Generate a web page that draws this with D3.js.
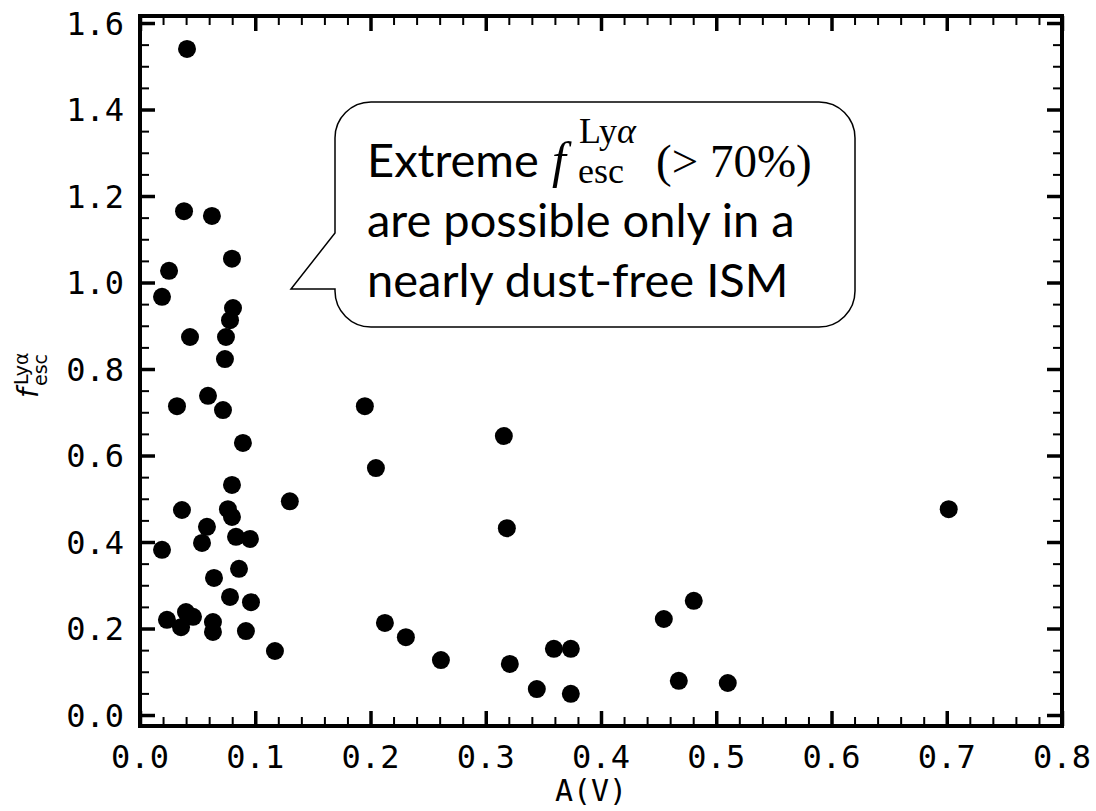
<!DOCTYPE html>
<html>
<head>
<meta charset="utf-8">
<script src="https://cdn.jsdelivr.net/npm/d3@7"></script>
<style>
  body { margin: 0; background: #fff; }
  svg { display: block; }
</style>
</head>
<body>
<div class="canvas"></div>
<script>
// A(V) vs Lya escape fraction
const av = [
  0.0408, 0.0382, 0.0624, 0.0798, 0.0252, 0.0191, 0.0807, 0.0781, 0.0434, 0.0746,
  0.0737, 0.0590, 0.0321, 0.0720, 0.0893, 0.0798, 0.1300, 0.0364, 0.0763, 0.0798,
  0.0581, 0.0538, 0.0833, 0.0954, 0.0191, 0.0859, 0.0642, 0.0781, 0.0963, 0.0399,
  0.0460, 0.0234, 0.0356, 0.0633, 0.0633, 0.0919, 0.1171, 0.1951, 0.2047, 0.2125,
  0.2307, 0.2611, 0.3157, 0.3183, 0.3209, 0.3443, 0.3591, 0.3738, 0.3738, 0.4545,
  0.4805, 0.4675, 0.5100, 0.7017
];
const fesc = [
  1.540, 1.165, 1.154, 1.055, 1.027, 0.967, 0.941, 0.913, 0.874, 0.874,
  0.823, 0.738, 0.714, 0.705, 0.629, 0.532, 0.494, 0.474, 0.476, 0.458,
  0.435, 0.398, 0.412, 0.407, 0.382, 0.338, 0.317, 0.273, 0.261, 0.238,
  0.227, 0.220, 0.203, 0.215, 0.192, 0.194, 0.148, 0.714, 0.571, 0.213,
  0.180, 0.127, 0.645, 0.432, 0.118, 0.060, 0.153, 0.153, 0.049, 0.222,
  0.264, 0.079, 0.074, 0.476
];
const xTicks = [0, 0.1, 0.2, 0.3, 0.4, 0.5, 0.6, 0.7, 0.8];
const yTicks = [0, 0.2, 0.4, 0.6, 0.8, 1.0, 1.2, 1.4, 1.6];

const W = 1096, H = 811;
const pLeft = 140, pRight = 1062, pTop = 16, pBottom = 726;

const svg = d3.select(".canvas")
    .append("svg")
    .attr("width", W)
    .attr("height", H);

const x = d3.scaleLinear().domain([0, 0.8]).range([pLeft, pRight]);
const y = d3.scaleLinear().domain([-0.0254, 1.6162]).range([pBottom, pTop]);

const xMinor = d3.range(0, 0.8001, 0.02).filter(v => Math.abs(v * 10 - Math.round(v * 10)) > 1e-6);
const yMinor = d3.range(0, 1.6001, 0.05).filter(v => Math.abs(v * 5 - Math.round(v * 5)) > 1e-6);

const mono = "'DejaVu Sans Mono', monospace";

// points
svg.append("g")
    .selectAll("circle")
    .data(av.map((d, i) => ({ x: d, y: fesc[i] })))
    .enter()
    .append("circle")
    .attr("cx", d => x(d.x))
    .attr("cy", d => y(d.y))
    .attr("r", 9)
    .attr("fill", "#000");

// ticks, all four sides, pointing in
function ticks(axis, tr, vals, size, width) {
    const g = svg.append("g")
        .attr("transform", tr)
        .call(axis.tickValues(vals).tickSize(size).tickFormat(""));
    g.select(".domain").remove();
    g.selectAll(".tick line").attr("stroke", "#000").attr("stroke-width", width);
    return g;
}
ticks(d3.axisBottom(x), `translate(0,${pBottom})`, xTicks, -15, 3.5);
ticks(d3.axisBottom(x), `translate(0,${pBottom})`, xMinor, -9, 2);
ticks(d3.axisTop(x), `translate(0,${pTop})`, xTicks, -15, 3.5);
ticks(d3.axisTop(x), `translate(0,${pTop})`, xMinor, -9, 2);
ticks(d3.axisLeft(y), `translate(${pLeft},0)`, yTicks, -15, 3.5);
ticks(d3.axisLeft(y), `translate(${pLeft},0)`, yMinor, -9, 2);
ticks(d3.axisRight(y), `translate(${pRight},0)`, yTicks, -15, 3.5);
ticks(d3.axisRight(y), `translate(${pRight},0)`, yMinor, -9, 2);

// frame
svg.append("rect")
    .attr("x", pLeft).attr("y", pTop)
    .attr("width", pRight - pLeft).attr("height", pBottom - pTop)
    .attr("fill", "none")
    .attr("stroke", "#000")
    .attr("stroke-width", 4);

// tick labels
svg.append("g").selectAll("text")
    .data(xTicks).enter().append("text")
    .attr("x", d => x(d))
    .attr("y", 768)
    .attr("text-anchor", "middle")
    .attr("font-family", mono)
    .attr("font-size", 32)
    .text(d => d.toFixed(1));

svg.append("g").selectAll("text")
    .data(yTicks).enter().append("text")
    .attr("x", 124)
    .attr("y", d => y(d))
    .attr("dy", "0.36em")
    .attr("text-anchor", "end")
    .attr("font-family", mono)
    .attr("font-size", 32)
    .text(d => d.toFixed(1));

// axis labels
svg.append("text")
    .attr("x", (pLeft + pRight) / 2 - 10)
    .attr("y", 801)
    .attr("text-anchor", "middle")
    .attr("font-family", mono)
    .attr("font-size", 30)
    .text("A(V)");

const yl = svg.append("g")
    .attr("transform", "translate(38,398) rotate(-90)")
    .attr("font-family", "'DejaVu Sans', sans-serif");
yl.append("text").attr("x", 0).attr("y", 0)
    .attr("font-size", 28).attr("font-style", "italic").text("f");
yl.append("text").attr("x", 13).attr("y", -10)
    .attr("font-size", 19).text("Lyα");
yl.append("text").attr("x", 12).attr("y", 9)
    .attr("font-size", 19).text("esc");

// callout
const bx0 = 335, bx1 = 855, by0 = 102, by1 = 327, r = 36;
const tip = [291, 289], baseTop = 233;
const callout = d3.path();
callout.moveTo(bx0 + r, by0);
callout.lineTo(bx1 - r, by0);
callout.arcTo(bx1, by0, bx1, by0 + r, r);
callout.lineTo(bx1, by1 - r);
callout.arcTo(bx1, by1, bx1 - r, by1, r);
callout.lineTo(bx0 + r, by1);
callout.arcTo(bx0, by1, bx0, by1 - r, r);
callout.lineTo(bx0, tip[1]);
callout.lineTo(tip[0], tip[1]);
callout.lineTo(bx0, baseTop);
callout.lineTo(bx0, by0 + r);
callout.arcTo(bx0, by0, bx0 + r, by0, r);
callout.closePath();

svg.append("path")
    .attr("d", callout.toString())
    .attr("fill", "#fff")
    .attr("stroke", "#000")
    .attr("stroke-width", 1.5);

const lato = "Lato, sans-serif";
const serif = "'Liberation Serif', 'DejaVu Serif', serif";
const note = svg.append("g");
note.append("text").attr("x", 367).attr("y", 177)
    .attr("font-family", lato).attr("font-size", 47).text("Extreme");
note.append("text").attr("x", 552).attr("y", 177)
    .attr("font-family", serif).attr("font-size", 50).attr("font-style", "italic").text("f");
note.append("text").attr("x", 579).attr("y", 143)
    .attr("font-family", serif).attr("font-size", 36)
    .html("Ly<tspan font-style='italic'>α</tspan>");
note.append("text").attr("x", 578).attr("y", 183)
    .attr("font-family", serif).attr("font-size", 36).text("esc");
note.append("text").attr("x", 656).attr("y", 177)
    .attr("font-family", serif).attr("font-size", 47).text("(> 70%)");
note.append("text").attr("x", 367).attr("y", 237)
    .attr("font-family", lato).attr("font-size", 47).text("are possible only in a");
note.append("text").attr("x", 367).attr("y", 297)
    .attr("font-family", lato).attr("font-size", 47).text("nearly dust-free ISM");
</script>
</body>
</html>
